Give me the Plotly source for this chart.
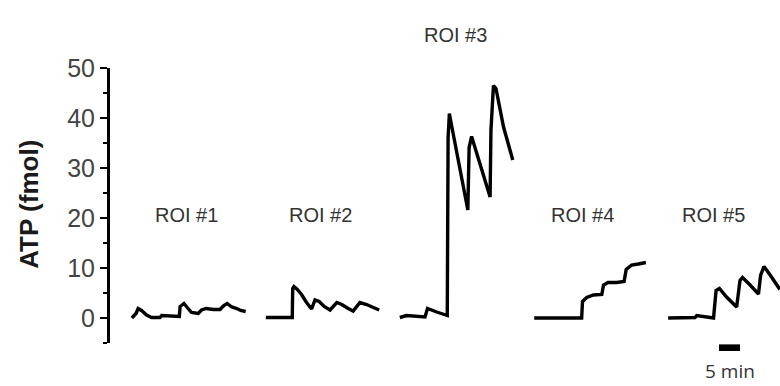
import plotly.graph_objects as go

# ---- data (time in minutes on a shared axis, ATP in fmol) ----
roi1_t = [5.2, 6.2, 6.7, 7.5, 8.7, 9.9, 11.9, 12.3, 16.5, 16.7, 17.6, 18.3, 19.4, 21.0, 21.8, 22.9, 24.6, 26.2, 27.1, 27.9, 29.0, 30.2, 31.1, 32.3]
roi1_v = [0.0, 0.9, 1.9, 1.5, 0.6, 0.1, 0.1, 0.5, 0.3, 2.3, 2.9, 2.1, 1.1, 0.9, 1.6, 1.9, 1.7, 1.7, 2.5, 2.9, 2.2, 1.9, 1.5, 1.3]

roi2_t = [37.1, 43.4, 43.5, 43.8, 44.6, 45.6, 46.8, 48.0, 48.8, 49.8, 51.0, 52.4, 54.0, 55.2, 56.7, 57.9, 59.5, 61.1, 62.7, 64.1]
roi2_v = [0.1, 0.1, 5.9, 6.3, 5.7, 4.7, 3.1, 1.8, 3.6, 3.3, 2.3, 1.6, 3.1, 2.7, 1.9, 1.4, 3.1, 2.7, 2.1, 1.6]

roi3_t = [69.0, 70.6, 75.0, 75.6, 77.8, 80.3, 80.5, 80.8, 81.4, 83.3, 85.2, 85.5, 86.1, 88.1, 90.5, 90.7, 91.3, 91.9, 93.7, 95.9]
roi3_v = [0.1, 0.5, 0.2, 1.9, 1.2, 0.5, 36.1, 40.9, 38.2, 29.5, 21.6, 34.1, 36.3, 30.8, 24.2, 37.5, 46.5, 45.9, 38.2, 31.6]

roi4_t = [101.0, 112.3, 112.5, 113.5, 115.1, 117.1, 117.5, 118.6, 120.6, 122.4, 122.9, 124.2, 125.8, 127.6]
roi4_v = [0.0, 0.0, 3.3, 4.1, 4.6, 4.7, 6.6, 7.1, 7.1, 7.3, 9.7, 10.6, 10.8, 11.1]

roi5_t = [132.9, 139.3, 139.7, 140.9, 143.7, 144.3, 145.1, 146.8, 149.2, 150.0, 150.6, 152.4, 154.4, 154.9, 155.7, 157.1, 159.5]
roi5_v = [0.0, 0.1, 0.5, 0.3, 0.0, 5.5, 5.9, 4.2, 2.2, 7.5, 8.1, 6.6, 4.8, 8.5, 10.3, 8.7, 5.7]

roi_labels = ["ROI #1", "ROI #2", "ROI #3", "ROI #4", "ROI #5"]

y_ticks = [0, 10, 20, 30, 40, 50]
scale_bar_start = 145.0
scale_bar_len = 5  # minutes
scale_bar_label = "5 min"

FONT = "Liberation Sans, Arial, sans-serif"

fig = go.Figure()
for t, v in [(roi1_t, roi1_v), (roi2_t, roi2_v), (roi3_t, roi3_v), (roi4_t, roi4_v), (roi5_t, roi5_v)]:
    fig.add_trace(go.Scatter(x=t, y=v, mode="lines", line=dict(color="black", width=3.4),
                             showlegend=False, hoverinfo="skip"))

# label placement (x in minutes, y in paper fraction)
label_pos = [(18.2, 0.465), (50.0, 0.465), (82.2, 1.12), (112.4, 0.465), (143.6, 0.465)]
for lab, (tx, py) in zip(roi_labels, label_pos):
    fig.add_annotation(x=tx, y=py, xref="x", yref="paper", yanchor="middle", text=lab,
                       showarrow=False, font=dict(family=FONT, size=20, color="#333333"))

# scale bar
fig.add_shape(type="rect", xref="x", yref="paper",
              x0=scale_bar_start, x1=scale_bar_start + scale_bar_len,
              y0=-0.029, y1=-0.005, fillcolor="black", line=dict(width=0))
fig.add_annotation(x=scale_bar_start + scale_bar_len / 2, xref="x", y=-0.1, yref="paper",
                   yanchor="middle", text=scale_bar_label, showarrow=False,
                   font=dict(family="Open Sans, sans-serif", size=19, color="#333333"))

# y-axis title
fig.add_annotation(x=-0.12, xref="paper", y=0.505, yref="paper", text="<b>ATP (fmol)</b>",
                   textangle=-90, showarrow=False, xanchor="center", yanchor="middle",
                   font=dict(family=FONT, size=26, color="#1a1a1a"))

fig.update_layout(
    width=780, height=386,
    margin=dict(l=110, r=0, t=68, b=43),
    paper_bgcolor="white", plot_bgcolor="white",
    xaxis=dict(range=[0, 670 / 4.2], visible=False),
    yaxis=dict(range=[-5, 50], tickvals=y_ticks, showgrid=False, zeroline=False,
               showline=True, linecolor="black", linewidth=3,
               ticks="outside", ticklen=7, tickwidth=2, tickcolor="black",
               tickfont=dict(family=FONT, size=25, color="#444444"),
               minor=dict(dtick=5, ticks="outside", ticklen=4, tickwidth=2, tickcolor="black")),
)

fig.write_html("out.html")
